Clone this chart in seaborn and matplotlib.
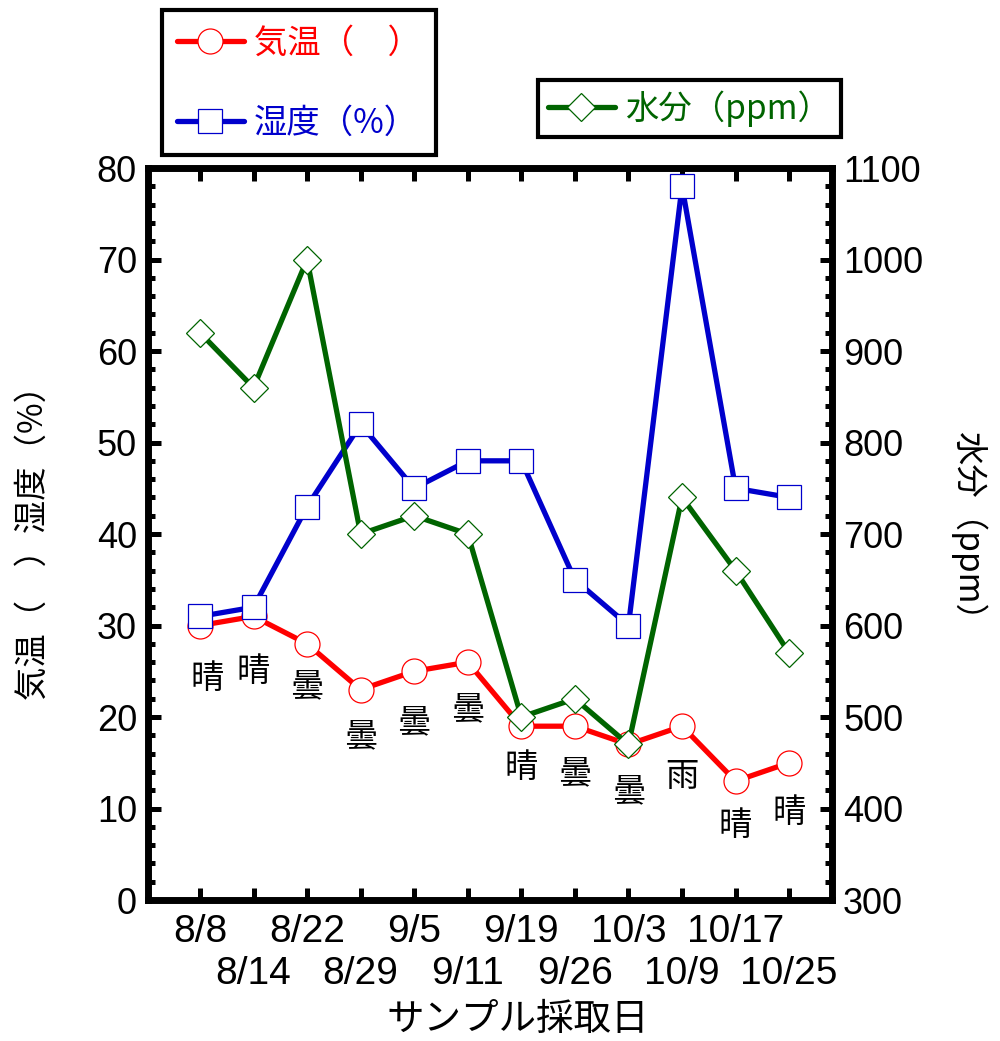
import numpy as np
import pandas as pd
import seaborn as sns
import matplotlib.pyplot as plt
from matplotlib.ticker import MultipleLocator, FixedLocator, FixedFormatter

# sampling dates and readings
dates = ["8/8", "8/14", "8/22", "8/29", "9/5", "9/11", "9/19", "9/26", "10/3", "10/9", "10/17", "10/25"]
temp = [30, 31, 28, 23, 25, 26, 19, 19, 17, 19, 13, 15]
humidity = [31, 32, 43, 52, 45, 48, 48, 35, 30, 78, 45, 44]
moisture = [920, 860, 1000, 700, 720, 700, 500, 520, 470, 740, 660, 570]
weather = ["晴", "晴", "曇", "曇", "曇", "曇", "晴", "曇", "曇", "雨", "晴", "晴"]

df = pd.DataFrame({"idx": np.arange(len(dates)), "temp": temp,
                   "humidity": humidity, "moisture": moisture})

sns.set_style("white")
plt.rcParams["font.family"] = ["Liberation Sans", "Noto Sans CJK JP", "DejaVu Sans"]
plt.rcParams.update({"text.color": "black", "xtick.color": "black",
                     "ytick.color": "black", "axes.labelcolor": "black"})

RED, BLUE, GREEN = "#FF0000", "#0000CC", "#006400"
CJK = "Noto Sans CJK JP"

fig = plt.figure(figsize=(10, 10.41), dpi=100)
ax = fig.add_axes([0.148, 0.1354, 0.684, 0.7032])
ax2 = ax.twinx()

sns.lineplot(data=df, x="idx", y="temp", ax=ax, color=RED, lw=3.8, marker="o",
             markersize=18, markerfacecolor="white", markeredgecolor=RED,
             markeredgewidth=0.9, label="気温（　）", legend=False)
sns.lineplot(data=df, x="idx", y="humidity", ax=ax, color=BLUE, lw=3.8, marker="s",
             markersize=17, markerfacecolor="white", markeredgecolor=BLUE,
             markeredgewidth=0.9, label="湿度（%）", legend=False)
sns.lineplot(data=df, x="idx", y="moisture", ax=ax2, color=GREEN, lw=3.8, marker="D",
             markersize=14.5, markerfacecolor="white", markeredgecolor=GREEN,
             markeredgewidth=0.9, label="水分（ppm）", legend=False)

# weather notes under the temperature points
offs = [38, 40, 31, 34, 37, 34, 30, 34, 34, 36, 32, 36]
for i, (t, w) in enumerate(zip(temp, weather)):
    ax.annotate(w, (i, t), xytext=(5 if i == 0 else 0, -offs[i]), textcoords="offset points",
                ha="center", va="center", fontsize=24, family=CJK)

ax.set_xlim(-0.97, 11.8)
ax.set_ylim(0, 80)
ax2.set_ylim(300, 1100)

# two rows of date labels: even dates on major ticks, odd dates on minor ticks
idx = np.arange(len(dates))
ax.xaxis.set_major_locator(FixedLocator(idx[::2]))
ax.xaxis.set_major_formatter(FixedFormatter(dates[::2]))
ax.xaxis.set_minor_locator(FixedLocator(idx[1::2]))
ax.xaxis.set_minor_formatter(FixedFormatter(dates[1::2]))
ax.yaxis.set_major_locator(MultipleLocator(10))
ax.yaxis.set_minor_locator(MultipleLocator(2))
ax2.yaxis.set_major_locator(MultipleLocator(100))
ax2.yaxis.set_minor_locator(MultipleLocator(20))

ax.tick_params(axis="x", which="major", direction="in", length=9, width=3.6,
               top=True, bottom=True, labelsize=28, pad=10)
ax.tick_params(axis="x", which="minor", direction="in", length=9, width=3.6,
               top=True, bottom=True, labelsize=28, pad=40)
ax.tick_params(axis="y", which="major", direction="in", length=9, width=3.6,
               left=True, right=False, labelsize=26, pad=8)
ax.tick_params(axis="y", which="minor", direction="in", length=5, width=3.6,
               left=True, right=False)
ax2.tick_params(axis="y", which="major", direction="in", length=9, width=3.6,
                labelsize=26, pad=8)
ax2.tick_params(axis="y", which="minor", direction="in", length=5, width=3.6)
for a in (ax, ax2):
    for s in a.spines.values():
        s.set_linewidth(4.8)
        s.set_color("black")

ax.set_xlabel("サンプル採取日", fontsize=27, family=CJK)
ax.xaxis.set_label_coords(0.54, -0.136)
ax.set_ylabel("気温（　）湿度（%）", fontsize=24, family=CJK)
ax.yaxis.set_label_coords(-0.142, 0.5)
ax2.set_ylabel("水分（ppm）", fontsize=24, family=CJK, rotation=270, va="center")
ax2.yaxis.set_label_coords(1.2, 0.5)

h1, l1 = ax.get_legend_handles_labels()
leg1 = fig.legend(h1, l1, loc="upper left", bbox_to_anchor=(0.162, 0.99),
                  prop={"family": CJK, "size": 24}, frameon=True, borderaxespad=0,
                  fancybox=False, edgecolor="black", framealpha=1, handlelength=2.0,
                  labelspacing=1.35, borderpad=0.45, handletextpad=0.3)
leg1.get_frame().set_linewidth(3)
for t, c in zip(leg1.get_texts(), [RED, BLUE]):
    t.set_color(c)

h2, l2 = ax2.get_legend_handles_labels()
leg2 = fig.legend(h2, l2, loc="upper left", bbox_to_anchor=(0.538, 0.923),
                  prop={"family": CJK, "size": 24}, frameon=True, borderaxespad=0,
                  fancybox=False, edgecolor="black", framealpha=1, handlelength=2.0,
                  borderpad=0.3, handletextpad=0.3)
leg2.get_frame().set_linewidth(3)
leg2.get_texts()[0].set_color(GREEN)

fig.savefig("out.png", dpi=100)
